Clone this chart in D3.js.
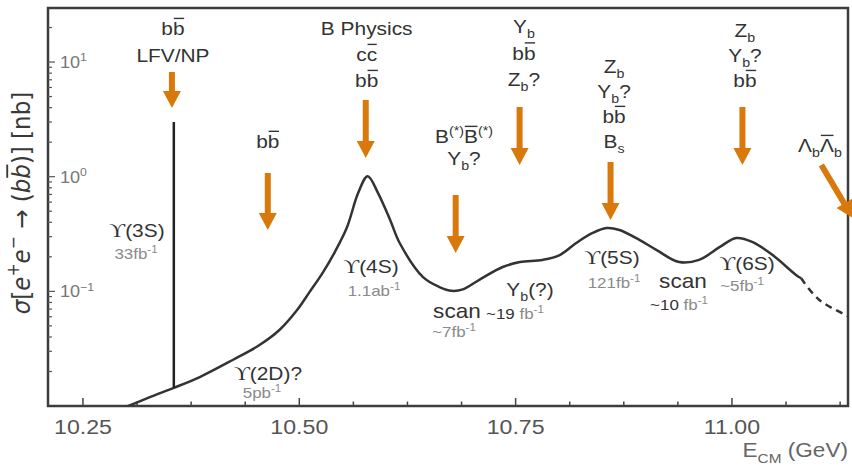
<!DOCTYPE html>
<html><head><meta charset="utf-8">
<script src="https://cdn.jsdelivr.net/npm/d3@7"></script>
<style>body{margin:0;background:#fff}svg{display:block}</style>
</head><body><svg id="c" width="852" height="473"></svg>
<script>
// ---------------- data ----------------
const curveEnergy = [10.295, 10.328, 10.355, 10.385, 10.423, 10.454, 10.477, 10.497, 10.512, 10.527, 10.541, 10.555, 10.568, 10.579, 10.591, 10.605, 10.616, 10.643, 10.662, 10.676, 10.689, 10.708, 10.735, 10.755, 10.781, 10.801, 10.820, 10.839, 10.855, 10.870, 10.893, 10.913, 10.939, 10.962, 10.986, 11.005, 11.024, 11.047, 11.074, 11.080];
const curveSigma  = [0.0095, 0.0120, 0.0144, 0.0179, 0.0252, 0.034, 0.046, 0.068, 0.099, 0.145, 0.22, 0.36, 0.72, 1.01, 0.72, 0.419, 0.264, 0.133, 0.109, 0.101, 0.104, 0.126, 0.163, 0.180, 0.188, 0.207, 0.264, 0.323, 0.357, 0.343, 0.281, 0.229, 0.180, 0.188, 0.244, 0.292, 0.269, 0.207, 0.139, 0.130];
const tailEnergy = [11.080, 11.101, 11.140];
const tailSigma  = [0.130, 0.084, 0.058];
const spikeEnergy = [10.355, 10.355];
const spikeSigma  = [0.0144, 3.0];

const xTicks = [10.25, 10.50, 10.75, 11.00];
const xTickLabels = ["10.25", "10.50", "10.75", "11.00"];
const xMinorStep = 0.0625;
const yTicks = [10, 1, 0.1];
const yTickLabels = ["10^{1}", "10^{0}", "10^{−1}"];

// arrows: energy, sigma at tail, energy & sigma at tip
const arrowE0 = [10.3528, 10.4636, 10.5768, 10.6807, 10.7546, 10.8597, 11.0121, 11.1033];
const arrowS0 = [8.18, 1.077, 4.66, 0.692, 4.05, 1.343, 4.05, 1.264];
const arrowE1 = [10.3528, 10.4636, 10.5768, 10.6807, 10.7546, 10.8597, 11.0121, 11.1398];
const arrowS1 = [3.97, 0.343, 1.454, 0.216, 1.264, 0.419, 1.264, 0.436];

// physics annotation columns (energy, sigma of first baseline, line gap px, lines)
// markup: _{sub} ^{sup} !{overline}
const topE     = [10.354, 10.4636, 10.5779, 10.6903, 10.7596, 10.8637, 11.015, 11.1017];
const topS     = [17.19, 1.78, 17.19, 1.966, 17.9, 8.02, 16.5, 1.64];
const topGap   = [27, 26, 26, 22, 26.5, 25, 25, 26];
const topLines = [
  ["b!{b}", "LFV/NP"],
  ["b!{b}"],
  ["B Physics", "c!{c}", "b!{b}"],
  ["B^{(*)}!{B}^{(*)}", "Y_{b}?"],
  ["Y_{b}", "b!{b}", "Z_{b}?"],
  ["Z_{b}", "Y_{b}?", "b!{b}", "B_{s}"],
  ["Z_{b}", "Y_{b}?", "b!{b}"],
  ["Λ_{b}!{Λ}_{b}"]
];

// resonance / luminosity labels
const resE    = [10.3124, 10.5828, 10.6822, 10.7666, 10.8613, 10.9434, 11.0174, 10.4638];
const resS    = [0.298, 0.1445, 0.0585, 0.0910, 0.173, 0.107, 0.1535, 0.01685];
const resText = ["ϒ(3S)", "ϒ(4S)", "scan", "Y_{b}(?)", "ϒ(5S)", "scan", "ϒ(6S)", "ϒ(2D)?"];
const lumE    = [10.3113, 10.5863, 10.6788, 10.7492, 10.8637, 10.9388, 11.0116, 10.4569];
const lumS    = [0.191, 0.0910, 0.0400, 0.0574, 0.107, 0.0687, 0.1007, 0.01174];
const lumDark = ["", "", "", "~19", "", "~10", "", ""];
const lumText = ["33fb^{-1}", "1.1ab^{-1}", "~7fb^{-1}", " fb^{-1}", "121fb^{-1}", " fb^{-1}", "~5fb^{-1}", "5pb^{-1}"];

// ---------------- chart ----------------
const FONT = "'Liberation Sans', Arial, sans-serif";
const SERIF = "'Liberation Serif','DejaVu Serif',serif";
const DARK = "#333", GRAY = "#8a8a8a", ORANGE = "#D9790C";
const SX = 1.13;

const svg = d3.select("#c");
const L = 48, T = 8, R = 848, B = 406;
const x = d3.scaleLinear().domain([10.2096, 11.1341]).range([L, R]);
const y = d3.scaleLog().domain([0.01, 29.6]).range([B, T]);

svg.append("defs").append("clipPath").attr("id", "clip")
  .append("rect").attr("x", L).attr("y", T).attr("width", R - L).attr("height", B - T);

function parse(str, color) {
  const segs = [];
  const re = /([_^!])\{([^}]*)\}|([^_^!]+)/g;
  let m;
  while ((m = re.exec(str))) {
    if (m[1]) {
      const s = { t: m[2], c: color };
      if (m[1] === "_") s.sub = 1; else if (m[1] === "^") s.sup = 1; else s.over = 1;
      segs.push(s);
    } else {
      m[3].split(/(ϒ)/).filter(p => p.length).forEach(p => segs.push({ t: p, c: color, serif: p === "ϒ" }));
    }
  }
  return segs;
}

function rich(parent, segs, size, color, anchor, family) {
  const text = parent.append("text").attr("text-anchor", anchor || "middle")
    .attr("font-size", size).attr("font-family", family || FONT).attr("fill", color);
  let shift = 0;
  const overs = [];
  segs.forEach(s => {
    const ts = text.append("tspan").text(s.t);
    const target = s.sub ? size * 0.28 : s.sup ? -size * 0.42 : 0;
    if (target - shift !== 0) ts.attr("dy", target - shift);
    shift = target;
    if (s.sub || s.sup) ts.attr("font-size", size * 0.68);
    if (s.i) ts.attr("font-style", "italic");
    if (s.serif) ts.attr("font-family", SERIF).attr("font-size", size * 1.05);
    if (s.c) ts.attr("fill", s.c);
    if (s.over) overs.push({ ts, base: target });
  });
  overs.forEach(o => {
    const n = o.ts.node();
    const p = n.getStartPositionOfChar(0);
    const w = n.getComputedTextLength();
    parent.append("line").attr("x1", p.x + size * 0.04).attr("x2", p.x + w - size * 0.02)
      .attr("y1", -size * 0.9).attr("y2", -size * 0.9)
      .attr("stroke", color).attr("stroke-width", size * 0.075);
  });
  return text;
}

function label(px, py, segs, size, color, anchor) {
  const g = svg.append("g").attr("transform", `translate(${px},${py}) scale(${SX},1)`);
  rich(g, segs, size, color, anchor);
  return g;
}

// frame
svg.append("rect").attr("x", L).attr("y", T).attr("width", R - L).attr("height", B - T)
  .attr("fill", "none").attr("stroke", "#3d3d3d").attr("stroke-width", 2.5);

// x ticks
const minor = d3.range(0, 16).map(i => 10.25 + (i - 1) * xMinorStep).filter(v => v > 10.21 && v < 11.133);
svg.append("g").selectAll("line").data(minor).join("line")
  .attr("x1", d => x(d)).attr("x2", d => x(d))
  .attr("y1", B).attr("y2", d => xTicks.some(t => Math.abs(t - d) < 1e-6) ? B - 8 : B - 4.5)
  .attr("stroke", "#444").attr("stroke-width", 1.5);
xTicks.forEach((t, i) => label(x(t), 434, parse(xTickLabels[i]), 20.5, "#555", "middle"));

// y ticks
const yMinor = [];
[0.01, 0.1, 1, 10].forEach(d => { for (let k = 1; k <= 9; k++) { const v = d * k; if (v > 0.01 && v < 29.6) yMinor.push(v); } });
svg.append("g").selectAll("line").data(yMinor).join("line")
  .attr("y1", d => y(d)).attr("y2", d => y(d))
  .attr("x1", L).attr("x2", d => yTicks.includes(d) ? L + 7 : L + 4)
  .attr("stroke", "#555").attr("stroke-width", 1.2);
yTicks.forEach((t, i) => label(L + 12, y(t) + 6, parse(yTickLabels[i]), 16, "#777", "start"));

// axis titles
{
  const g = svg.append("g").attr("transform", `translate(848,457) scale(${SX},1)`);
  rich(g, [{ t: "E" }, { t: "CM", sub: 1 }, { t: " (GeV)" }], 20, "#666", "end");
}
{
  const g = svg.append("g").attr("transform", "translate(30,203) rotate(-90) scale(1,1.1)");
  rich(g, [{ t: "σ", i: 1 }, { t: "[" }, { t: "e", i: 1 }, { t: "+", sup: 1 }, { t: "e", i: 1 }, { t: "−", sup: 1 },
    { t: " → (" }, { t: "b", i: 1 }, { t: "b", i: 1, over: 1 }, { t: ")] [nb]" }], 23, "#3a3a3a", "middle", "'DejaVu Sans', sans-serif");
}

// curves
const line = d3.line().x(d => x(d[0])).y(d => y(d[1])).curve(d3.curveCatmullRom.alpha(0.5));
const plot = svg.append("g").attr("clip-path", "url(#clip)");
plot.append("path").datum(curveEnergy.map((e, i) => [e, curveSigma[i]]))
  .attr("d", line).attr("fill", "none").attr("stroke", "#333").attr("stroke-width", 2.5);
plot.append("path").datum(tailEnergy.map((e, i) => [e, tailSigma[i]]))
  .attr("d", line).attr("fill", "none").attr("stroke", "#333").attr("stroke-width", 2.5)
  .attr("stroke-dasharray", "7,5");
plot.append("path").datum(spikeEnergy.map((e, i) => [e, spikeSigma[i]]))
  .attr("d", d3.line().x(d => x(d[0])).y(d => y(d[1]))).attr("fill", "none")
  .attr("stroke", "#222").attr("stroke-width", 2.5);

// arrows
function arrowPts(x0, y0, x1, y1) {
  const dx = x1 - x0, dy = y1 - y0, len = Math.hypot(dx, dy);
  const ux = dx / len, uy = dy / len, nx = -uy, ny = ux;
  const hw = 3, HW = 9, HL = 17;
  const bx = x1 - ux * HL, by = y1 - uy * HL;
  return [[x0 + nx * hw, y0 + ny * hw], [bx + nx * hw, by + ny * hw], [bx + nx * HW, by + ny * HW], [x1, y1],
    [bx - nx * HW, by - ny * HW], [bx - nx * hw, by - ny * hw], [x0 - nx * hw, y0 - ny * hw]];
}
svg.append("g").selectAll("polygon").data(arrowE0.map((e, i) => i)).join("polygon")
  .attr("points", i => arrowPts(x(arrowE0[i]), y(arrowS0[i]), x(arrowE1[i]), y(arrowS1[i])).map(p => p.join(",")).join(" "))
  .attr("fill", ORANGE);

// top annotations
topE.forEach((e, i) => {
  topLines[i].forEach((ln, j) => label(x(e), y(topS[i]) + j * topGap[i], parse(ln), 18.5, DARK, "middle"));
});

// resonance labels
resE.forEach((e, i) => {
  const isScan = resText[i] === "scan";
  label(x(e), y(resS[i]), parse(resText[i]), isScan ? 20 : 18.5, DARK, "middle");
});
lumE.forEach((e, i) => {
  const segs = (lumDark[i] ? parse(lumDark[i], DARK) : []).concat(parse(lumText[i], GRAY));
  label(x(e), y(lumS[i]), segs, 15, GRAY, "middle");
});
</script></body></html>
